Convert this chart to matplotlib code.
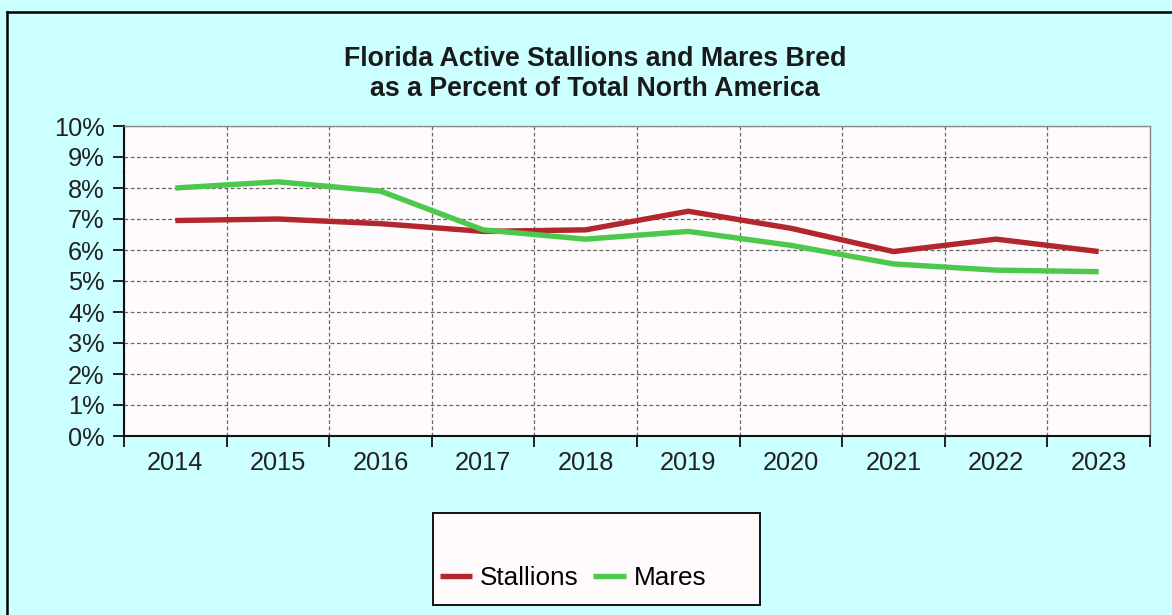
import matplotlib.pyplot as plt
from matplotlib.patches import Rectangle
from matplotlib.lines import Line2D
from matplotlib.ticker import FuncFormatter, FixedLocator

plt.rcParams['font.family'] = ['Liberation Sans', 'DejaVu Sans']

years = ['2014', '2015', '2016', '2017', '2018', '2019', '2020', '2021', '2022', '2023']
stallions = [6.95, 7.0, 6.85, 6.6, 6.65, 7.25, 6.7, 5.95, 6.35, 5.95]
mares = [8.0, 8.2, 7.9, 6.65, 6.35, 6.6, 6.15, 5.55, 5.35, 5.3]
y_ticks = list(range(0, 11))

W, H = 1172, 615
fig = plt.figure(figsize=(W / 100, H / 100), dpi=100)
fig.patch.set_facecolor('#ccffff')

# outer frame (top and left edges are visible in the original)
fig.add_artist(Line2D([7 / W, 1], [1 - 12 / H, 1 - 12 / H], color='black', lw=1.8))
fig.add_artist(Line2D([7 / W, 7 / W], [0, 1 - 12 / H], color='black', lw=1.8))

ax = fig.add_axes([124 / W, 1 - 436 / H, (1150 - 124) / W, (436 - 126) / H])
ax.set_facecolor('#fffbfd')

x = list(range(len(years)))
ax.plot(x, stallions, color='#b2262d', lw=3.9, solid_capstyle='butt', label='Stallions', zorder=3)
ax.plot(x, mares, color='#4cc94c', lw=3.9, solid_capstyle='butt', label='Mares', zorder=3)

ax.set_xlim(-0.5, len(years) - 0.5)
ax.set_ylim(0, 10)

ax.xaxis.set_major_locator(FixedLocator([i - 0.5 for i in range(len(years) + 1)]))
ax.xaxis.set_minor_locator(FixedLocator(x))
ax.set_xticklabels([], minor=False)
ax.set_xticklabels(years, minor=True)
ax.tick_params(axis='x', which='major', direction='out', length=8, width=1.4, color='#222222')
ax.tick_params(axis='x', which='minor', length=0, pad=11, labelsize=18.3, labelcolor='#222222')

ax.set_yticks(y_ticks)
ax.yaxis.set_major_formatter(FuncFormatter(lambda v, p: '%d%%' % v))
ax.tick_params(axis='y', direction='out', length=8, width=1.4, color='#222222',
               pad=6, labelsize=18.3, labelcolor='#222222')

ax.grid(True, which='major', color='#666666', linestyle=(0, (3, 2)), lw=0.9)
ax.set_axisbelow(True)

for side in ['left', 'bottom']:
    ax.spines[side].set_color('#111111')
    ax.spines[side].set_linewidth(1.5)
for side in ['top', 'right']:
    ax.spines[side].set_color('#8a8a8a')
    ax.spines[side].set_linewidth(1.0)

fig.text(595 / W, 1 - 59 / H, 'Florida Active Stallions and Mares Bred',
         ha='center', va='center', fontsize=19.3, fontweight='bold', color='#1a1a1a')
fig.text(595 / W, 1 - 89 / H, 'as a Percent of Total North America',
         ha='center', va='center', fontsize=19.3, fontweight='bold', color='#1a1a1a')

# legend box with entries along its bottom
fig.add_artist(Rectangle((433 / W, 1 - 605 / H), (760 - 433) / W, (605 - 513) / H,
                         transform=fig.transFigure, facecolor='#fffbfd',
                         edgecolor='#111111', lw=1.4, zorder=1))
leg = fig.legend(loc='center', bbox_to_anchor=(573 / W, 1 - 578 / H), ncol=2,
                 frameon=False, fontsize=18.8, handlelength=1.25, handletextpad=0.3,
                 columnspacing=0.55, borderpad=0)
leg.set_zorder(2)

fig.savefig('out.png', dpi=100, facecolor=fig.get_facecolor())
